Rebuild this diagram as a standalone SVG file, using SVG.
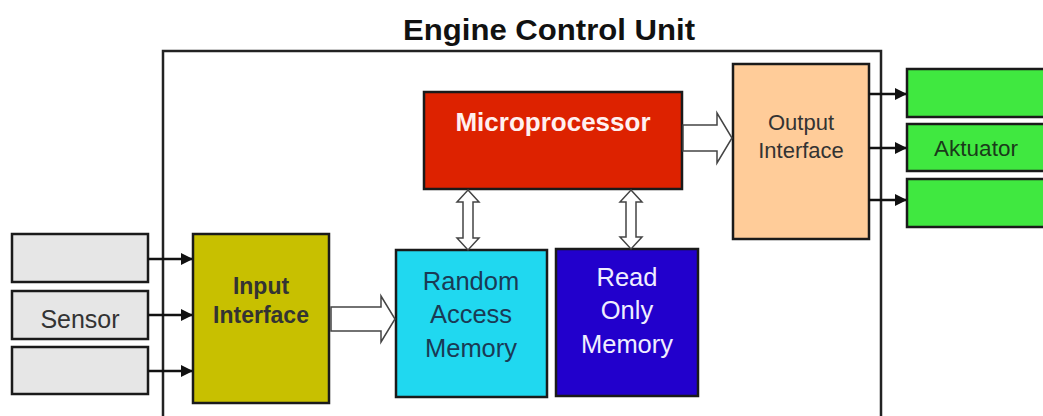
<svg xmlns="http://www.w3.org/2000/svg" width="1043" height="416" viewBox="0 0 1043 416">
<style>
.box{stroke:#1a1a1a;stroke-width:2.5}
.t{font-family:"Liberation Sans",Arial,sans-serif;text-anchor:middle}
.hollow{fill:#fff;stroke:#444;stroke-width:1.5;stroke-linejoin:miter}
.ln{stroke:#111;stroke-width:2.5;fill:none}
</style>
<defs>
<marker id="ah" markerWidth="12" markerHeight="12" refX="11" refY="6" orient="auto" markerUnits="userSpaceOnUse" viewBox="0 0 12 12">
<path d="M0,0 L12,6 L0,12 z" fill="#111"/>
</marker>
</defs>
<rect width="1043" height="416" fill="#fff"/>
<text class="t" x="549" y="40" font-size="29" font-weight="bold" fill="#111" textLength="292" lengthAdjust="spacingAndGlyphs">Engine Control Unit</text>
<g id="ecu"><path d="M163,425 V51 H881 V425" fill="none" stroke="#222" stroke-width="2.5"/></g>

<g id="sensor1"><rect class="box" x="12" y="234" width="136" height="48" fill="#e6e6e6"/></g>
<g id="sensor2"><rect class="box" x="12" y="291" width="136" height="48" fill="#e6e6e6"/><text class="t" x="80" y="328" font-size="25" fill="#333">Sensor</text></g>
<g id="sensor3"><rect class="box" x="12" y="347" width="136" height="47" fill="#e6e6e6"/></g>

<g id="input"><rect class="box" x="193" y="234" width="136" height="169" fill="#c8c000"/>
<text class="t" x="261" y="294" font-size="23" font-weight="bold" fill="#333">Input</text>
<text class="t" x="261" y="323" font-size="23" font-weight="bold" fill="#333">Interface</text></g>

<g id="micro"><rect class="box" x="424" y="92" width="258" height="97" fill="#dd2200"/>
<text class="t" x="553" y="131" font-size="26" font-weight="bold" fill="#fff0f0">Microprocessor</text></g>

<g id="ram"><rect class="box" x="396" y="250" width="151" height="147" fill="#20d8f0"/>
<text class="t" x="471" y="290" font-size="25.5" fill="#1a3a55">Random</text>
<text class="t" x="471" y="323" font-size="25.5" fill="#1a3a55">Access</text>
<text class="t" x="471" y="357" font-size="25.5" fill="#1a3a55">Memory</text></g>

<g id="rom"><rect class="box" x="556" y="249" width="142" height="147" fill="#2200cc"/>
<text class="t" x="627" y="286" font-size="25.5" fill="#f0eeff">Read</text>
<text class="t" x="627" y="319" font-size="25.5" fill="#f0eeff">Only</text>
<text class="t" x="627" y="353" font-size="25.5" fill="#f0eeff">Memory</text></g>

<g id="output"><rect class="box" x="733" y="64" width="136" height="175" fill="#ffcc99"/>
<text class="t" x="801" y="130" font-size="22" fill="#333">Output</text>
<text class="t" x="801" y="158" font-size="22" fill="#333">Interface</text></g>

<g id="akt1"><rect class="box" x="907" y="69" width="140" height="48" fill="#40e840"/></g>
<g id="akt2"><rect class="box" x="907" y="124" width="140" height="47" fill="#40e840"/><text class="t" x="976" y="156" font-size="22.5" fill="#1a3a1a">Aktuator</text></g>
<g id="akt3"><rect class="box" x="907" y="179" width="140" height="48" fill="#40e840"/></g>

<g id="connectors">
<line class="ln" x1="148" y1="259" x2="192" y2="259" marker-end="url(#ah)"/>
<line class="ln" x1="148" y1="315" x2="192" y2="315" marker-end="url(#ah)"/>
<line class="ln" x1="148" y1="371" x2="192" y2="371" marker-end="url(#ah)"/>
<line class="ln" x1="869" y1="94" x2="906" y2="94" marker-end="url(#ah)"/>
<line class="ln" x1="869" y1="148" x2="906" y2="148" marker-end="url(#ah)"/>
<line class="ln" x1="869" y1="200" x2="906" y2="200" marker-end="url(#ah)"/>
<path class="hollow" d="M331,307 H381 V296 L395,319 L381,342 V331 H331 Z"/>
<path class="hollow" d="M683,125 H717 V113 L732,138 L717,163 V151 H683 Z"/>
<path class="hollow" d="M468,190 L479,202 H473 V238 H479 L468,250 L457,238 H463 V202 H457 Z"/>
<path class="hollow" d="M631,190 L642,202 H636 V237 H642 L631,249 L620,237 H626 V202 H620 Z"/>
</g>
</svg>
